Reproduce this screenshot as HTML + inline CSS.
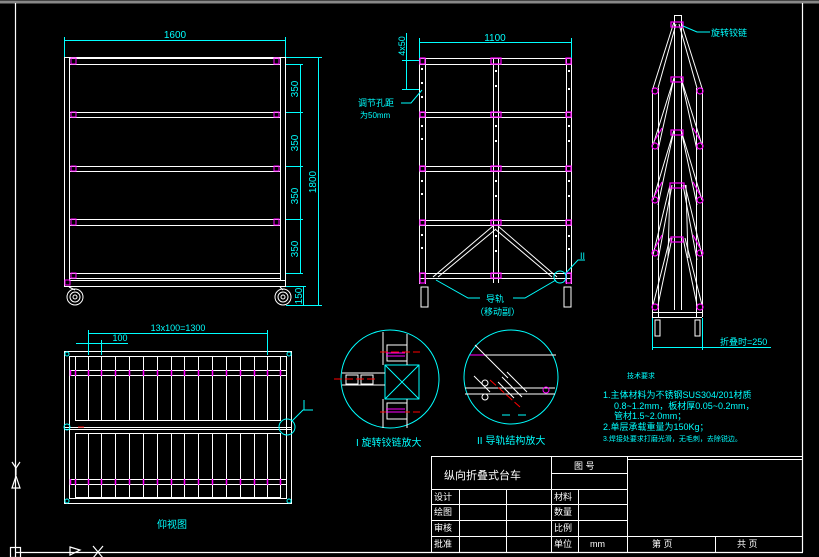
<!DOCTYPE html>
<html><head><meta charset="utf-8"><style>
html,body{margin:0;padding:0;background:#000;width:819px;height:557px;overflow:hidden}
svg{display:block}
text{font-family:"Liberation Sans","Noto Sans CJK SC",sans-serif}
</style></head><body>
<svg width="819" height="557" viewBox="0 0 819 557" xmlns="http://www.w3.org/2000/svg">
<rect width="819" height="557" fill="#000"/>
<!-- border -->
<line x1="0" y1="2" x2="819" y2="2" stroke="#888" stroke-width="3"/>
<g stroke="#fff" stroke-width="1.2" fill="none">
<line x1="15.5" y1="3" x2="15.5" y2="557"/>
<line x1="802.5" y1="3" x2="802.5" y2="552"/>
<line x1="15" y1="552.5" x2="803" y2="552.5"/>
<rect x="10.5" y="547.5" width="10" height="10"/>
<path d="M12 462 L16 468 L20 462 M16 468 L16 475"/>
<path d="M12 488 L16 476 L20 488 Z"/>
<path d="M70 547 L80 550 L70 555 Z"/>
<path d="M93 546 L103 558 M103 546 L93 558"/>
</g>

<!-- ===== Front view (left) ===== -->
<g stroke="#fff" stroke-width="1" fill="none">
<rect x="64.5" y="57.5" width="221" height="229"/>
<line x1="69.5" y1="58" x2="69.5" y2="280"/>
<line x1="280.5" y1="58" x2="280.5" y2="280"/>
<path d="M69 58.5H280 M69 64.5H280 M69 112.5H280 M69 117.5H280 M69 166.5H280 M69 171.5H280 M69 219.5H280 M69 225.5H280 M69 273.5H280 M69 278.5H280 M69 280.5H285"/>
<circle cx="75" cy="297" r="8"/><circle cx="75" cy="297" r="5"/><circle cx="75" cy="297" r="2"/>
<circle cx="283" cy="297" r="8"/><circle cx="283" cy="297" r="5"/><circle cx="283" cy="297" r="2"/>
<path d="M69 287 L75 290 M280 287 L283 290"/>
</g>
<g stroke="#f0f" stroke-width="1" fill="none">
<rect x="71" y="58" width="5" height="6"/><rect x="274" y="58" width="5" height="6"/>
<rect x="71" y="112" width="5" height="5"/><rect x="274" y="112" width="5" height="5"/>
<rect x="71" y="166" width="5" height="5"/><rect x="274" y="166" width="5" height="5"/>
<rect x="71" y="219" width="5" height="6"/><rect x="274" y="219" width="5" height="6"/>
<rect x="71" y="273" width="5" height="5"/><rect x="65" y="280" width="5" height="5"/>
</g>
<g stroke="#0ff" stroke-width="1" fill="none">
<path d="M64.5 37V57 M285.5 37V57 M64 40.5H285"/>
<path d="M300.5 64V273 M286 64.5H303 M286 112.5H303 M286 166.5H303 M286 219.5H303 M286 273.5H303"/>
<path d="M318.5 58V305 M286 57.5H322 M286 305.5H322 M303.5 286V305 M286 286.5H306"/>
</g>
<g fill="#0ff" font-size="10">
<text x="175" y="38" text-anchor="middle">1600</text>
<text transform="translate(298,89) rotate(-90)" text-anchor="middle">350</text>
<text transform="translate(298,143) rotate(-90)" text-anchor="middle">350</text>
<text transform="translate(298,196) rotate(-90)" text-anchor="middle">350</text>
<text transform="translate(298,249) rotate(-90)" text-anchor="middle">350</text>
<text transform="translate(316,182) rotate(-90)" text-anchor="middle">1800</text>
<text transform="translate(302,296) rotate(-90)" text-anchor="middle">150</text>
</g>

<!-- ===== Side view (middle) ===== -->
<g stroke="#fff" stroke-width="1" fill="none">
<path d="M419.5 58V284 M425.5 58V284 M566.5 58V284 M571.5 58V284 M493.5 58V283 M498.5 58V283"/>
<path d="M419 58.5H571 M419 64.5H571 M419 112.5H571 M419 117.5H571 M419 166.5H571 M419 171.5H571 M419 220.5H571 M419 225.5H571 M419 273.5H571 M419 278.5H571"/>
<path d="M493 226 L433 277 M496 229 L438 277 M498 226 L557 277 M495 229 L552 277"/>
<rect x="421" y="287" width="7" height="20"/><rect x="564" y="287" width="7" height="20"/>
</g>
<g fill="#fff">
<rect x="421" y="68" width="2" height="2"/><rect x="421" y="82" width="2" height="2"/><rect x="421" y="96" width="2" height="2"/>
<rect x="421" y="125" width="2" height="2"/><rect x="421" y="138" width="2" height="2"/>
<rect x="421" y="180" width="2" height="2"/><rect x="421" y="193" width="2" height="2"/>
<rect x="421" y="234" width="2" height="2"/><rect x="421" y="247" width="2" height="2"/>
<rect x="568" y="70" width="2" height="2"/><rect x="568" y="88" width="2" height="2"/><rect x="568" y="125" width="2" height="2"/><rect x="568" y="140" width="2" height="2"/><rect x="568" y="180" width="2" height="2"/><rect x="568" y="195" width="2" height="2"/><rect x="568" y="235" width="2" height="2"/><rect x="568" y="248" width="2" height="2"/>
<rect x="495" y="70" width="2" height="2"/><rect x="495" y="85" width="2" height="2"/><rect x="495" y="125" width="2" height="2"/><rect x="495" y="140" width="2" height="2"/><rect x="495" y="180" width="2" height="2"/><rect x="495" y="195" width="2" height="2"/><rect x="495" y="235" width="2" height="2"/><rect x="495" y="250" width="2" height="2"/>
</g>
<g stroke="#f0f" stroke-width="1.2" fill="none">
<rect x="420" y="58" width="5" height="6"/><rect x="566" y="58" width="5" height="6"/><rect x="491" y="58" width="10" height="6"/>
<rect x="420" y="112" width="5" height="5"/><rect x="566" y="112" width="5" height="5"/><rect x="491" y="112" width="10" height="5"/>
<rect x="420" y="166" width="5" height="5"/><rect x="566" y="166" width="5" height="5"/><rect x="491" y="166" width="10" height="5"/>
<rect x="420" y="220" width="5" height="5"/><rect x="566" y="220" width="5" height="5"/><rect x="491" y="220" width="10" height="5"/>
<rect x="420" y="273" width="5" height="10"/><rect x="566" y="273" width="5" height="10"/><rect x="491" y="273" width="10" height="5"/>
</g>
<g stroke="#0ff" stroke-width="1" fill="none">
<path d="M419.5 38V58 M571.5 38V58 M419 42.5H571"/>
<path d="M406.5 33V89 M402 60.5H419 M402 89.5H419"/>
<path d="M401 103H411 L422 90"/>
<path d="M436 280 L468 298H480 M556 280 L525 298H513"/>
<circle cx="560" cy="277" r="6"/>
<path d="M565 274 L578 260H585"/>
</g>
<g fill="#0ff" font-size="9">
<text x="495" y="41" text-anchor="middle" font-size="10">1100</text>
<text transform="translate(405,46) rotate(-90)" text-anchor="middle" font-size="9">4x50</text>
<text x="358" y="106">调节孔距</text>
<text x="360" y="118" font-size="8">为50mm</text>
<text x="486" y="302">导轨</text>
<text x="475" y="315">（移动副）</text>
<text x="580" y="259">II</text>
</g>

<!-- ===== Folded view (right) ===== -->
<g stroke="#fff" stroke-width="1" fill="none">
<path d="M674.5 15V310 M681.5 15V310 M674 15.5H681"/>
<path d="M652.5 88V317 M658.5 88V317 M696.5 88V317 M702.5 88V317"/>
<path d="M674 22 L653 88 M676 24 L658 88 M681 22 L702 88 M679 24 L697 88"/>
<path d="M674 78 L653 145 M674 78 L658 150 M681 78 L702 145 M681 78 L697 150"/>
<path d="M674 130 L653 200 M674 130 L658 205 M681 130 L702 200 M681 130 L697 205"/>
<path d="M670 185 L653 255 M672 185 L658 260 M685 185 L702 255 M683 185 L697 260"/>
<path d="M670 238 L653 305 M672 238 L658 305 M685 238 L702 305 M683 238 L697 305"/>
<path d="M670 185 L668 258 M686 185 L688 258"/>
<path d="M652 312.5H702 M652 317.5H702"/>
<rect x="655" y="320" width="5" height="16"/><rect x="695" y="320" width="5" height="16"/>
</g>
<g stroke="#f0f" stroke-width="1.2" fill="none">
<rect x="671" y="22" width="12" height="5"/><rect x="671" y="77" width="12" height="5"/>
<rect x="671" y="130" width="12" height="5"/><rect x="670" y="183" width="14" height="5"/>
<rect x="671" y="237" width="12" height="5"/>
<circle cx="655" cy="91" r="3"/><circle cx="700" cy="91" r="3"/>
<circle cx="655" cy="146" r="3"/><circle cx="700" cy="146" r="3"/>
<circle cx="655" cy="200" r="3"/><circle cx="700" cy="200" r="3"/>
<circle cx="655" cy="253" r="3"/><circle cx="700" cy="253" r="3"/>
<circle cx="655" cy="307" r="3"/><circle cx="700" cy="307" r="3"/>
<path d="M655 140 L662 128 M700 140 L693 128 M655 195 L662 182 M700 195 L693 182 M655 248 L662 235 M700 248 L693 235"/>
</g>
<g stroke="#0ff" stroke-width="1" fill="none">
<path d="M652.5 318V350 M702.5 318V350 M652 347.5H771"/>
<path d="M683 26 L697 32H710"/>
</g>
<g fill="#0ff" font-size="9">
<text x="711" y="36">旋转铰链</text>
<text x="720" y="345">折叠时=250</text>
</g>

<!-- ===== Bottom view ===== -->
<g stroke="#fff" stroke-width="1" fill="none">
<rect x="64.5" y="351.5" width="227" height="152"/>
<rect x="69.5" y="356.5" width="217" height="142"/>
<rect x="75.5" y="356.5" width="205" height="64"/>
<rect x="75.5" y="433.5" width="205" height="64"/>
<path d="M69 370.5H286 M69 375.5H286 M69 479.5H286 M69 484.5H286 M64 427.5H291 M64 429.5H291"/>
<path d="M88.5 357V420 M101.5 357V420 M115.5 357V420 M129.5 357V420 M143.5 357V420 M157.5 357V420 M171.5 357V420 M184.5 357V420 M198.5 357V420 M212.5 357V420 M226.5 357V420 M240.5 357V420 M254.5 357V420 M267.5 357V420"/>
<path d="M88.5 434V497 M101.5 434V497 M115.5 434V497 M129.5 434V497 M143.5 434V497 M157.5 434V497 M171.5 434V497 M184.5 434V497 M198.5 434V497 M212.5 434V497 M226.5 434V497 M240.5 434V497 M254.5 434V497 M267.5 434V497"/>
</g>
<g stroke="#f0f" stroke-width="1.5">
<path d="M70.5 370V376 M75.5 370V376 M88.5 370V376 M101.5 370V376 M115.5 370V376 M129.5 370V376 M143.5 370V376 M157.5 370V376 M171.5 370V376 M184.5 370V376 M198.5 370V376 M212.5 370V376 M226.5 370V376 M240.5 370V376 M254.5 370V376 M267.5 370V376 M280.5 370V376"/>
<path d="M70.5 479V485 M75.5 479V485 M88.5 479V485 M101.5 479V485 M115.5 479V485 M129.5 479V485 M143.5 479V485 M157.5 479V485 M171.5 479V485 M184.5 479V485 M198.5 479V485 M212.5 479V485 M226.5 479V485 M240.5 479V485 M254.5 479V485 M267.5 479V485 M280.5 479V485"/>
</g>
<g stroke="#0ff" stroke-width="1" fill="none">
<circle cx="67" cy="354" r="2"/><circle cx="289" cy="354" r="2"/><circle cx="67" cy="501" r="2"/><circle cx="289" cy="501" r="2"/>
<circle cx="67" cy="427" r="3"/>
<circle cx="287" cy="427" r="8"/>
<path d="M88.5 330V355 M267.5 330V355 M88 333.5H268 M101.5 340V355 M76 343.5H128"/>
<path d="M292 421 L303 410H313 M304 400V410"/>
</g>
<path d="M78 427H84" stroke="#f00" stroke-width="1"/>
<g fill="#0ff" font-size="9">
<text x="178" y="331" text-anchor="middle">13x100=1300</text>
<text x="120" y="341" text-anchor="middle">100</text>
<text x="172" y="528" text-anchor="middle" font-size="10">仰视图</text>
</g>

<!-- ===== Detail I ===== -->
<g stroke="#0ff" stroke-width="1" fill="none">
<circle cx="390" cy="379" r="49"/>
<circle cx="511" cy="377" r="47"/>
<rect x="385" y="365" width="34" height="34"/>
<path d="M385 365 L419 399 M419 365 L385 399"/>
<path d="M502 415H510 M518 415H526"/>
</g>
<g stroke="#fff" stroke-width="1" fill="none">
<path d="M383 332V365 M407 334V365 M383 399V428 M407 399V428"/>
<rect x="387" y="345" width="20" height="16"/><rect x="387" y="403" width="20" height="16"/>
<path d="M342 373H385 M342 385H385"/>
<rect x="346" y="375" width="12" height="9"/><rect x="361" y="375" width="12" height="9"/>
<!-- detail II -->
<path d="M465 388H555 M465 394H555 M470 355H556"/>
<path d="M475 345 L508 378 M474 376 L490 392"/>
<path d="M502 377 L522 397 M507 372 L527 392 M498 382 L514 398"/>
<circle cx="485" cy="383" r="3"/><circle cx="485" cy="397" r="3"/>
</g>
<g stroke="#f00" stroke-width="1" fill="none" stroke-dasharray="8,3">
<path d="M380 352H420 M380 412H420 M334 379H375 M490 380 L520 407"/>
</g>
<g stroke="#f0f" stroke-width="1" fill="none">
<path d="M386 353H405 M386 356H405 M386 409H405 M386 412H405 M470 355H484"/>
<circle cx="546" cy="390" r="3"/>
</g>
<g fill="#0ff" font-size="10">
<text x="356" y="446">I  旋转铰链放大</text>
<text x="477" y="444">II 导轨结构放大</text>
</g>

<!-- ===== Technical requirements ===== -->
<g fill="#0ff" font-size="9">
<text x="627" y="378" font-size="7">技术要求</text>
<text x="603" y="398">1.主体材料为不锈钢SUS304/201材质</text>
<text x="614" y="409">0.8~1.2mm，板材厚0.05~0.2mm，</text>
<text x="614" y="419">管材1.5~2.0mm；</text>
<text x="603" y="430">2.单层承载重量为150Kg；</text>
<text x="603" y="441" font-size="7">3.焊接处要求打磨光滑，无毛刺，去除锐边。</text>
</g>

<!-- ===== Title block ===== -->
<g stroke="#fff" stroke-width="1" fill="none">
<path d="M431.5 456V552 M459.5 489V552 M506.5 489V552 M551.5 456V552 M578.5 489V552 M627.5 456V552 M715.5 536V552"/>
<path d="M431 456.5H802 M627 459.5H802 M551 473.5H627 M431 489.5H627 M431 504.5H627 M431 520.5H627 M431 536.5H802"/>
</g>
<g fill="#fff" font-size="9">
<text x="444" y="479" font-size="11">纵向折叠式台车</text>
<text x="574" y="469">图  号</text>
<text x="434" y="500">设计</text>
<text x="434" y="515">绘图</text>
<text x="434" y="531">审核</text>
<text x="434" y="547">批准</text>
<text x="554" y="500">材料</text>
<text x="554" y="515">数量</text>
<text x="554" y="531">比例</text>
<text x="554" y="547">单位</text>
<text x="590" y="547">mm</text>
<text x="652" y="547">第      页</text>
<text x="737" y="547">共      页</text>
</g>
</svg>
</body></html>
